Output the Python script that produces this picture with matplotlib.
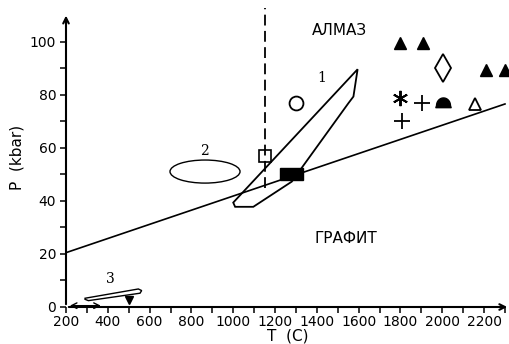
import numpy as np
import matplotlib
matplotlib.use("Agg")
import matplotlib.pyplot as plt
from matplotlib.patches import Ellipse, Polygon, Rectangle
from matplotlib.ticker import FixedLocator

# ---------------- DATA ----------------
# graphite / diamond boundary
boundary_T = [200, 2300]
boundary_P = [20.5, 76.6]

# dashed vertical line
dash_T = [1150, 1150]
dash_P = [45, 113]

# field 1 (outline)
field1_T = [1595, 1575, 1551, 1280, 1096, 1009, 1000]
field1_P = [89.7, 79.4, 76.9, 47.3, 37.8, 37.8, 39.4]

# field 3 (thin outline near the axis)
field3_T = [291, 546, 562, 554, 307, 291]
field3_P = [3.3, 6.8, 6.2, 5.2, 2.4, 2.9]

# field 2 (ellipse): center, width, height
ell_T, ell_P, ell_w, ell_h = 865, 51.1, 335, 8.7

# black rectangle
rect_T, rect_P, rect_w, rect_h = 1224, 47.8, 108, 4.6

# point symbols
filled_tri_T = [1800, 1910, 2210, 2300]
filled_tri_P = [99.5, 99.5, 89.5, 89.5]
open_circle = (1300, 77)
open_square = (1150, 57)
open_diamond = (2005, 90)
asterisk = (1800, 79)
plus_T = [1905, 1805]
plus_P = [77, 70]
dome = (2005, 77)
open_tri = (2155, 76.6)
down_tri = (503, 2.6)

x_major = list(range(200, 2201, 200))
x_minor = list(range(300, 2301, 200))
y_major = list(range(0, 101, 20))
y_minor = list(range(10, 100, 20))

# ---------------- PLOT ----------------
fig = plt.figure(figsize=(5.1, 3.44), dpi=100)
ax = fig.add_axes([66 / 510, 37 / 344, 444 / 510, 299.5 / 344])
ax.set_xlim(200, 2324)
ax.set_ylim(0, 113)

for s in ax.spines.values():
    s.set_visible(False)

# axes with arrows
ax.annotate("", xy=(2324, 0), xytext=(200, 0),
            arrowprops=dict(arrowstyle="->", lw=1.5, color="black"),
            annotation_clip=False)
ax.annotate("", xy=(200, 111), xytext=(200, 0),
            arrowprops=dict(arrowstyle="->", lw=1.5, color="black"),
            annotation_clip=False)

ax.set_xticks(x_major)
ax.set_yticks(y_major)
ax.xaxis.set_minor_locator(FixedLocator(x_minor))
ax.yaxis.set_minor_locator(FixedLocator(y_minor))
ax.tick_params(which="both", direction="out", length=4, width=1.1, labelsize=10)
ax.tick_params(axis="x", pad=1.5)
ax.tick_params(axis="y", pad=3)

ax.set_xlabel("T  (C)", fontsize=11, labelpad=0)
ax.set_ylabel("P  (kbar)", fontsize=11, labelpad=4)

# lines
ax.plot(boundary_T, boundary_P, color="black", lw=1.2)
ax.plot(dash_T, dash_P, color="black", lw=1.3, ls=(0, (6, 3)), clip_on=False)

ax.add_patch(Polygon(np.column_stack([field1_T, field1_P]), closed=True,
                     fill=False, ec="black", lw=1.3))
ax.add_patch(Polygon(np.column_stack([field3_T, field3_P]), closed=True,
                     fill=False, ec="black", lw=1.0))
ax.add_patch(Ellipse((ell_T, ell_P), ell_w, ell_h, fill=False, ec="black", lw=1.0))
ax.add_patch(Rectangle((rect_T, rect_P), rect_w, rect_h, fc="black", ec="black", zorder=3))

# small double arrow along T axis
ax.annotate("", xy=(380, 0.5), xytext=(205, 0.5),
            arrowprops=dict(arrowstyle="<->", lw=1.0, color="black"))

# markers
ax.plot(filled_tri_T, filled_tri_P, "^", color="black", ms=9, ls="none")
ax.plot(*open_circle, "o", mfc="white", mec="black", mew=1.3, ms=10)
ax.plot(*open_square, "s", mfc="none", mec="black", mew=1.2, ms=8)
ax.plot(*open_diamond, "d", mfc="white", mec="black", mew=1.3, ms=14)
ax.plot(*asterisk, marker=(6, 2, 0), color="black", mew=1.4, ms=11)
ax.plot(plus_T, plus_P, "+", color="black", mew=1.3, ms=11, ls="none")
th = np.linspace(0, np.pi, 20)
dome_verts = [(np.cos(t), np.sin(t) * 1.1 - 0.3) for t in th] + [(-1.1, -0.6), (1.1, -0.6), (1, -0.3)]
ax.plot(*dome, marker=dome_verts, color="black", ms=11)
ax.plot(*open_tri, "^", mfc="white", mec="black", mew=1.3, ms=9)
ax.plot(*down_tri, "v", color="black", ms=6)

# labels
ax.text(1510, 104.5, "АЛМАЗ", fontsize=11, ha="center", va="center")
ax.text(1540, 26, "ГРАФИТ", fontsize=11, ha="center", va="center")
ax.text(1425, 86.5, "1", fontsize=10, family="DejaVu Serif", ha="center", va="center")
ax.text(860, 59, "2", fontsize=10, family="DejaVu Serif", ha="center", va="center")
ax.text(410, 10.5, "3", fontsize=10, family="DejaVu Serif", ha="center", va="center")

fig.savefig("out.png", dpi=100)
